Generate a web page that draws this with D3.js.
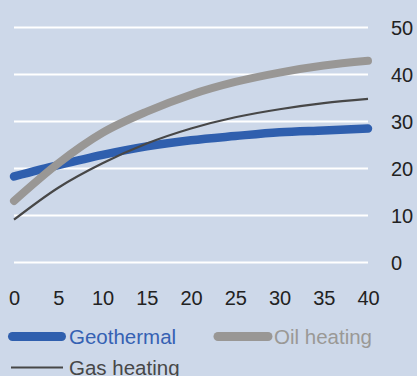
<!DOCTYPE html>
<html>
<head>
<meta charset="utf-8">
<script src="https://cdn.jsdelivr.net/npm/d3@7"></script>
<style>
  html, body { margin: 0; padding: 0; background: #cdd8e9; }
  svg { display: block; }
  text { font-family: "Liberation Sans", Arial, sans-serif; }
</style>
</head>
<body>
<svg id="chart" width="417" height="376"></svg>
<script>
// Years after installation
const years = [0, 5, 10, 15, 20, 25, 30, 35, 40];
// Cumulative cost per heating system
const geothermal = [18.2, 20.6, 22.8, 24.6, 25.9, 26.8, 27.6, 28.0, 28.4];
const oilHeating = [13.0, 21.0, 27.5, 32.0, 35.6, 38.3, 40.3, 41.8, 42.8];
const gasHeating = [9.0, 15.8, 21.0, 25.2, 28.4, 30.8, 32.5, 33.8, 34.7];

const xTicks = [0, 5, 10, 15, 20, 25, 30, 35, 40];
const yTicks = [0, 10, 20, 30, 40, 50];

const seriesNames = ["Geothermal", "Oil heating", "Gas heating"];
const seriesColors = ["#2f5fae", "#999795", "#474747"];
const seriesWidths = [8.5, 8, 2.2];
const legendText = ["#3561b3", "#9a9896", "#474747"];

const series = [geothermal, oilHeating, gasHeating].map((vals, i) => ({
  name: seriesNames[i],
  color: seriesColors[i],
  width: seriesWidths[i],
  points: years.map((y, j) => ({ x: y, v: vals[j] }))
}));

const svg = d3.select("#chart");
const x = d3.scaleLinear().domain([0, 40]).range([14, 368]);
const y = d3.scaleLinear().domain([0, 50]).range([262, 27]);

// Horizontal gridlines with labels on the right
const yAxis = d3.axisRight(y).tickValues(yTicks).tickSize(x.range()[1] - x.range()[0]).tickPadding(23);
const gy = svg.append("g").attr("transform", `translate(${x.range()[0]},0)`).call(yAxis);
gy.select(".domain").remove();
gy.selectAll(".tick line").attr("stroke", "#ffffff").attr("stroke-width", 2.2);
gy.selectAll(".tick text")
  .attr("fill", "#222")
  .attr("font-size", 20)
  .attr("font-family", "'Liberation Sans', Arial, sans-serif")
  .attr("dy", "0.36em");

// Year labels along the bottom
const xAxis = d3.axisBottom(x).tickValues(xTicks).tickSize(0).tickPadding(0);
const gx = svg.append("g").attr("transform", "translate(0,291)").call(xAxis);
gx.select(".domain").remove();
gx.selectAll(".tick text")
  .attr("fill", "#222")
  .attr("font-size", 20)
  .attr("font-family", "'Liberation Sans', Arial, sans-serif")
  .attr("dy", "0.72em");

// Cost curves
const line = d3.line().x(d => x(d.x)).y(d => y(d.v)).curve(d3.curveMonotoneX);
svg.append("g").selectAll("path")
  .data(series)
  .join("path")
  .attr("d", d => line(d.points))
  .attr("fill", "none")
  .attr("stroke", d => d.color)
  .attr("stroke-width", d => d.width)
  .attr("stroke-linecap", (d, i) => i < 2 ? "round" : "butt");

// Legend
const legendPos = [
  { lx1: 12.5, lx2: 61.5, ly: 336.5, tx: 69, ty: 344 },
  { lx1: 218, lx2: 268, ly: 336.5, tx: 274, ty: 344 },
  { lx1: 11, lx2: 63, ly: 367.5, tx: 69, ty: 375 }
];
const legendLineWidths = [9, 9, 2.2];
const lg = svg.append("g");
series.forEach((s, i) => {
  const p = legendPos[i];
  lg.append("line")
    .attr("x1", p.lx1).attr("x2", p.lx2)
    .attr("y1", p.ly).attr("y2", p.ly)
    .attr("stroke", s.color)
    .attr("stroke-width", legendLineWidths[i])
    .attr("stroke-linecap", i < 2 ? "round" : "butt");
  lg.append("text")
    .attr("x", p.tx).attr("y", p.ty)
    .attr("fill", legendText[i])
    .attr("font-size", 20.5)
    .text(s.name);
});
</script>
</body>
</html>
